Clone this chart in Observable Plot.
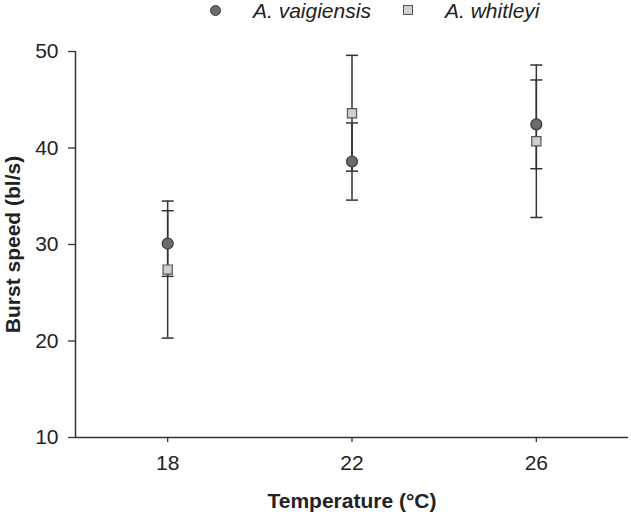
<!DOCTYPE html>
<html>
<head>
<meta charset="utf-8">
<script src="https://cdn.jsdelivr.net/npm/d3@7"></script>
<script src="https://cdn.jsdelivr.net/npm/@observablehq/plot@0.6"></script>
<style>
  html, body { margin: 0; padding: 0; background: #fff; }
  #wrap { position: relative; width: 631px; height: 517px; font-family: "Liberation Sans", Arial, sans-serif; }
  #wrap svg { position: absolute; left: 0; top: 0; }
  .leg { position: absolute; font-style: italic; font-size: 21px; color: #222; line-height: 1; white-space: nowrap; }
  .sym { position: absolute; box-sizing: border-box; }
</style>
</head>
<body>
<div id="wrap"></div>
<script>
// ---- data ----
const temps = [18, 22, 26];
const series = ["A. vaigiensis", "A. whitleyi"];
const vaigMean = [30.1, 38.6, 42.45];
const vaigErr = [3.4, 4.0, 4.6];
const whitMean = [27.4, 43.6, 40.7];
const whitErr = [7.1, 6.0, 7.9];
const xTicks = [18, 22, 26];
const yTicks = [10, 20, 30, 40, 50];
const xDomain = [16, 28];
const yDomain = [10, 50];

const rows = [];
temps.forEach((t, i) => {
  rows.push({ temp: t, species: series[0], mean: vaigMean[i], lo: vaigMean[i] - vaigErr[i], hi: vaigMean[i] + vaigErr[i] });
  rows.push({ temp: t, species: series[1], mean: whitMean[i], lo: whitMean[i] - whitErr[i], hi: whitMean[i] + whitErr[i] });
});
const caps = rows.flatMap(d => [{ temp: d.temp, v: d.lo }, { temp: d.temp, v: d.hi }]);
const vaigRows = rows.filter(d => d.species === series[0]);
const whitRows = rows.filter(d => d.species === series[1]);

const capSymbol = { draw(ctx) { ctx.moveTo(-6, 0); ctx.lineTo(6, 0); } };
const ink = "#333";

const chart = Plot.plot({
  width: 631,
  height: 517,
  marginTop: 51,
  marginBottom: 80,
  marginLeft: 75,
  marginRight: 3,
  x: { domain: xDomain },
  y: { domain: yDomain },
  style: { fontFamily: "'Liberation Sans', Arial, sans-serif", fontSize: "21px", color: "#222", background: "#fff" },
  marks: [
    Plot.ruleX([xDomain[0]], { y1: yDomain[0], y2: yDomain[1], stroke: ink, strokeWidth: 1.5 }),
    Plot.ruleY([yDomain[0]], { x1: xDomain[0], x2: xDomain[1], stroke: ink, strokeWidth: 1.5 }),
    Plot.axisY({ ticks: yTicks, tickSize: 7, tickPadding: 10, label: null, stroke: ink, strokeWidth: 1.3, fontSize: 21, tickFormat: d => d }),
    Plot.axisX({ ticks: xTicks, tickSize: 5, tickPadding: 13, label: null, stroke: ink, strokeWidth: 1.3, fontSize: 21, tickFormat: d => d }),
    Plot.ruleX(rows, { x: "temp", y1: "lo", y2: "hi", stroke: ink, strokeWidth: 1.5 }),
    Plot.dot(caps, { x: "temp", y: "v", symbol: capSymbol, r: 1, fill: "none", stroke: ink, strokeWidth: 1.5 }),
    Plot.dot(vaigRows, { x: "temp", y: "mean", symbol: "circle", r: 5.5, fill: "#6b6b6b", stroke: "#3a3a3a", strokeWidth: 1.2 }),
    Plot.dot(whitRows, { x: "temp", y: "mean", symbol: "square", r: 5.2, fill: "#cfcfcf", stroke: "#555", strokeWidth: 1.2 }),
    Plot.text(["Temperature (°C)"], { frameAnchor: "bottom", dy: 64, lineAnchor: "middle", textAnchor: "middle", fontWeight: "bold", fontSize: 21, fill: "#222" }),
    Plot.text(["Burst speed (bl/s)"], { frameAnchor: "left", dx: -62, rotate: -90, lineAnchor: "middle", textAnchor: "middle", fontWeight: "bold", fontSize: 21, fill: "#222" })
  ]
});

const wrap = document.getElementById("wrap");
wrap.appendChild(chart);

// legend
function addSym(left, top, size, style) {
  const s = document.createElement("div");
  s.className = "sym";
  s.style.left = (left - size / 2) + "px";
  s.style.top = (top - size / 2) + "px";
  s.style.width = size + "px";
  s.style.height = size + "px";
  Object.assign(s.style, style);
  wrap.appendChild(s);
}
function addText(txt, left, top) {
  const t = document.createElement("div");
  t.className = "leg";
  t.textContent = txt;
  t.style.left = left + "px";
  t.style.top = top + "px";
  wrap.appendChild(t);
}
addSym(215, 10, 11, { borderRadius: "50%", background: "#6b6b6b", border: "1.2px solid #3a3a3a" });
addText(series[0], 253, 0);
addSym(408, 10, 9.5, { background: "#cfcfcf", border: "1.2px solid #555" });
addText(series[1], 445, 0);
</script>
</body>
</html>
